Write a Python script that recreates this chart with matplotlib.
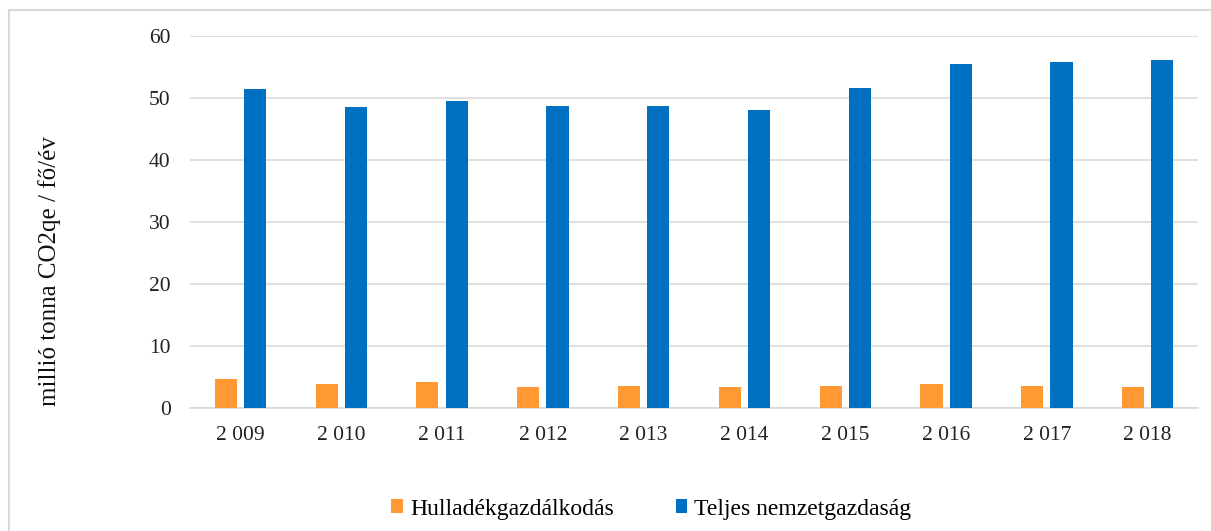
import matplotlib
matplotlib.use('Agg')
import matplotlib.pyplot as plt
import numpy as np
from matplotlib.patches import Rectangle

# Yearly emissions, million tonnes CO2 equivalent
years = ['2 009', '2 010', '2 011', '2 012', '2 013',
         '2 014', '2 015', '2 016', '2 017', '2 018']
waste = [4.6, 3.8, 4.2, 3.35, 3.55, 3.35, 3.55, 3.8, 3.55, 3.35]
national = [51.4, 48.5, 49.5, 48.7, 48.7, 48.05, 51.55, 55.5, 55.75, 56.1]

plt.rcParams['font.family'] = ['Liberation Serif', 'DejaVu Serif']

fig = plt.figure(figsize=(12.11, 5.31), dpi=100)
ax = fig.add_axes([0.1569, 0.2316, 0.8324, 0.7006])

x = np.arange(len(years))
w = 0.22
ax.bar(x - 0.145, waste, width=w, color='#FF9933', label='Hulladékgazdálkodás', zorder=3)
ax.bar(x + 0.145, national, width=w, color='#0070C0', label='Teljes nemzetgazdaság', zorder=3)

ax.set_xlim(-0.5, len(years) - 0.5)
ax.set_ylim(0, 60)
ax.set_yticks(range(0, 61, 10))
ax.set_xticks(x)
ax.set_xticklabels(years)

ax.yaxis.grid(True, color='#d9d9d9', linewidth=1.2, zorder=0)
for side in ['top', 'right', 'left']:
    ax.spines[side].set_visible(False)
ax.spines['bottom'].set_color('#d9d9d9')
ax.spines['bottom'].set_linewidth(1.2)
ax.tick_params(axis='both', length=0, labelsize=15.5, colors='#222222')
ax.tick_params(axis='y', pad=14)
ax.tick_params(axis='x', pad=13)

ax.set_ylabel('millió tonna CO2qe / fő/év', fontsize=18, color='#111111')
ax.yaxis.set_label_coords(-0.128, 0.369)

fig.legend(loc='center', bbox_to_anchor=(651.5 / 1211, 1 - 509 / 531), ncol=2,
           frameon=False, fontsize=17, handlelength=0.5, handleheight=0.5,
           handletextpad=0.3, columnspacing=2.6)

# light frame around the chart area
fig.patches.append(Rectangle((9 / 1211, -0.1), 1.2, 0.9812 + 0.1, transform=fig.transFigure,
                             fill=False, edgecolor='#d9d9d9', linewidth=1.5))

fig.savefig('out.png', dpi=100)
